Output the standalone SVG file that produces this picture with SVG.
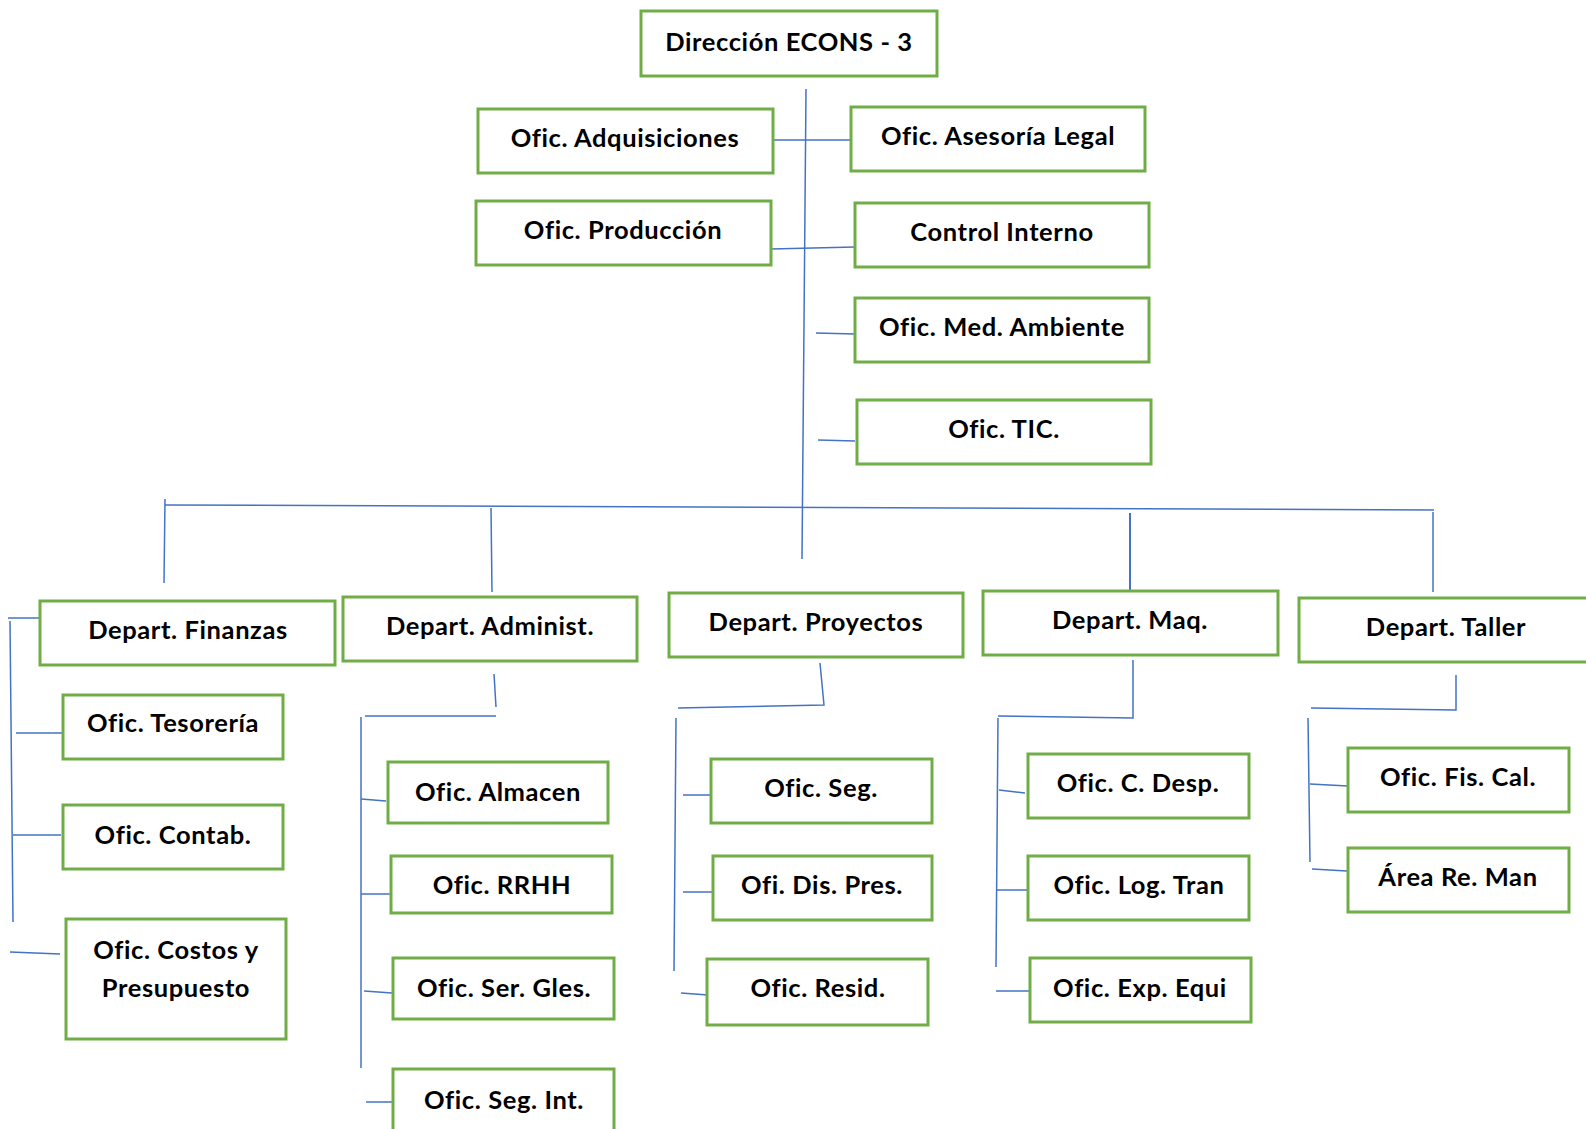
<svg xmlns="http://www.w3.org/2000/svg" width="1586" height="1129" viewBox="0 0 1586 1129">
<style>
.box{fill:#fff;stroke:#70AD47;stroke-width:3}
.t{font-family:Lato,"Liberation Sans",sans-serif;font-weight:700;font-size:25.5px;letter-spacing:0.6px;fill:#000;text-anchor:middle}
.c{stroke:#4472C4;stroke-width:1.5;fill:none}
</style>
<rect width="1586" height="1129" fill="#fff"/>
<g id="connectors">
<path class="c" d="M806,89 L802,559"/>
<path class="c" d="M773,140 L851,140"/>
<path class="c" d="M771,249 L855,247"/>
<path class="c" d="M816,333 L855,334"/>
<path class="c" d="M818,440 L855,441"/>
<path class="c" d="M165,505 L1434,510"/>
<path class="c" d="M165,499 L164,583"/>
<path class="c" d="M491,508 L492,592"/>
<path class="c" d="M1130,513 L1130,597" style="stroke-width:2"/>
<path class="c" d="M1433,512 L1433,592"/>
<path class="c" d="M8,618 L42,618"/>
<path class="c" d="M10,621 L13,922"/>
<path class="c" d="M16,733 L66,733"/>
<path class="c" d="M13,835 L61,835"/>
<path class="c" d="M10,952 L60,954"/>
<path class="c" d="M494,674 L496,707"/>
<path class="c" d="M365,716 L496,716"/>
<path class="c" d="M361,717 L361,1068"/>
<path class="c" d="M361,799 L386,801"/>
<path class="c" d="M361,894 L390,894"/>
<path class="c" d="M364,991 L392,993"/>
<path class="c" d="M366,1102 L392,1102"/>
<path class="c" d="M820,663 L824,705 L678,708"/>
<path class="c" d="M676,718 L674,971"/>
<path class="c" d="M683,795 L711,795"/>
<path class="c" d="M683,892 L713,892"/>
<path class="c" d="M681,993 L708,995"/>
<path class="c" d="M1133,660 L1133,718 L998,716"/>
<path class="c" d="M998,718 L996,967"/>
<path class="c" d="M999,790 L1025,793"/>
<path class="c" d="M996,890 L1032,890"/>
<path class="c" d="M996,991 L1030,991"/>
<path class="c" d="M1456,675 L1456,710 L1311,708"/>
<path class="c" d="M1308,718 L1310,862"/>
<path class="c" d="M1310,784 L1348,786"/>
<path class="c" d="M1312,869 L1347,871"/>
</g>
<g id="n-direccion"><rect class="box" x="641" y="11" width="296" height="65"/><text class="t" x="789" y="51">Dirección ECONS - 3</text></g>
<g id="n-adquisiciones"><rect class="box" x="478" y="109" width="295" height="64"/><text class="t" x="625" y="147">Ofic. Adquisiciones</text></g>
<g id="n-asesoria"><rect class="box" x="851" y="107" width="294" height="64"/><text class="t" x="998" y="145">Ofic. Asesoría Legal</text></g>
<g id="n-produccion"><rect class="box" x="476" y="201" width="295" height="64"/><text class="t" x="623" y="239">Ofic. Producción</text></g>
<g id="n-control"><rect class="box" x="855" y="203" width="294" height="64"/><text class="t" x="1002" y="241">Control Interno</text></g>
<g id="n-medambiente"><rect class="box" x="855" y="298" width="294" height="64"/><text class="t" x="1002" y="336">Ofic. Med. Ambiente</text></g>
<g id="n-tic"><rect class="box" x="857" y="400" width="294" height="64"/><text class="t" x="1004" y="438">Ofic. TIC.</text></g>
<g id="n-finanzas"><rect class="box" x="40" y="601" width="295" height="64"/><text class="t" x="188" y="639">Depart. Finanzas</text></g>
<g id="n-administ"><rect class="box" x="343" y="597" width="294" height="64"/><text class="t" x="490" y="635">Depart. Administ.</text></g>
<g id="n-proyectos"><rect class="box" x="669" y="593" width="294" height="64"/><text class="t" x="816" y="631">Depart. Proyectos</text></g>
<g id="n-maq"><rect class="box" x="983" y="591" width="295" height="64"/><text class="t" x="1130" y="629">Depart. Maq.</text></g>
<g id="n-taller"><rect class="box" x="1299" y="598" width="300" height="64"/><text class="t" x="1446" y="636">Depart. Taller</text></g>
<g id="n-tesoreria"><rect class="box" x="63" y="695" width="220" height="64"/><text class="t" x="173" y="732">Ofic. Tesorería</text></g>
<g id="n-contab"><rect class="box" x="63" y="805" width="220" height="64"/><text class="t" x="173" y="844">Ofic. Contab.</text></g>
<g id="n-costos"><rect class="box" x="66" y="919" width="220" height="120"/><text class="t" x="176" y="959">Ofic. Costos y</text><text class="t" x="176" y="997">Presupuesto</text></g>
<g id="n-almacen"><rect class="box" x="388" y="762" width="220" height="61"/><text class="t" x="498" y="801">Ofic. Almacen</text></g>
<g id="n-rrhh"><rect class="box" x="391" y="856" width="221" height="57"/><text class="t" x="502" y="894">Ofic. RRHH</text></g>
<g id="n-sergles"><rect class="box" x="393" y="958" width="221" height="61"/><text class="t" x="504" y="997">Ofic. Ser. Gles.</text></g>
<g id="n-segint"><rect class="box" x="393" y="1069" width="221" height="70"/><text class="t" x="504" y="1109">Ofic. Seg. Int.</text></g>
<g id="n-seg"><rect class="box" x="711" y="759" width="221" height="64"/><text class="t" x="821" y="797">Ofic. Seg.</text></g>
<g id="n-dispres"><rect class="box" x="713" y="856" width="219" height="64"/><text class="t" x="822" y="894">Ofi. Dis. Pres.</text></g>
<g id="n-resid"><rect class="box" x="707" y="959" width="221" height="66"/><text class="t" x="818" y="997">Ofic. Resid.</text></g>
<g id="n-cdesp"><rect class="box" x="1028" y="754" width="221" height="64"/><text class="t" x="1138" y="792">Ofic. C. Desp.</text></g>
<g id="n-logtran"><rect class="box" x="1028" y="856" width="221" height="64"/><text class="t" x="1139" y="894">Ofic. Log. Tran</text></g>
<g id="n-expequi"><rect class="box" x="1030" y="958" width="221" height="64"/><text class="t" x="1140" y="997">Ofic. Exp. Equi</text></g>
<g id="n-fiscal"><rect class="box" x="1348" y="748" width="221" height="64"/><text class="t" x="1458" y="786">Ofic. Fis. Cal.</text></g>
<g id="n-reman"><rect class="box" x="1348" y="848" width="221" height="64"/><text class="t" x="1458" y="886">Área Re. Man</text></g>
</svg>
